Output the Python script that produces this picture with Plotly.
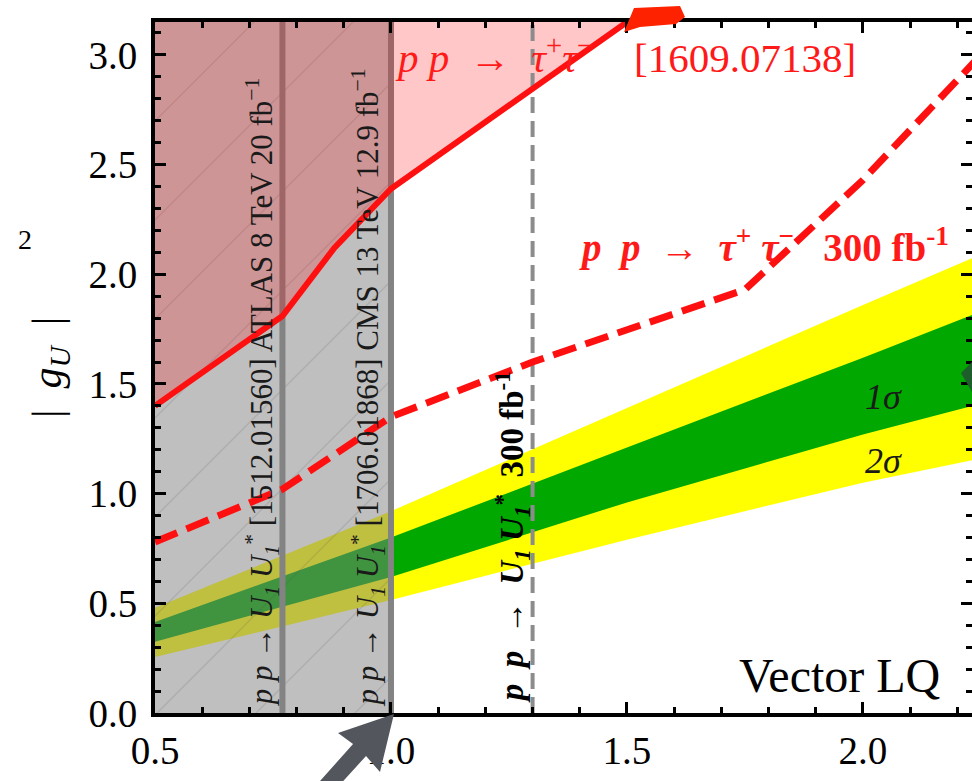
import plotly.graph_objects as go

# ---------------- data ----------------
x_range = [0.5, 2.231]
y_range = [0.0, 3.15]

# current exclusion limits on M_U (TeV)
atlas_limit = 0.77
cms_limit = 1.0
hl_limit = 1.30

# pp -> tau tau, 1609.07138 (solid red)
tt_x = [0.5, 0.77, 0.88, 1.0, 1.5, 1.6]
tt_y = [1.40, 1.81, 2.12, 2.39, 3.15, 3.30]

# pp -> tau tau, 300 fb^-1 (dashed red)
tt300_x = [0.5, 0.77, 1.0, 1.3, 1.75, 2.0, 2.25]
tt300_y = [0.78, 1.02, 1.35, 1.60, 1.93, 2.43, 3.00]

# 1 sigma / 2 sigma bands
band_x = [0.5, 1.0, 1.5, 2.0, 2.25]
y2_hi = [0.48, 0.92, 1.39, 1.86, 2.09]
y1_hi = [0.415, 0.80, 1.21, 1.62, 1.83]
y1_lo = [0.325, 0.62, 0.96, 1.27, 1.41]
y2_lo = [0.255, 0.515, 0.79, 1.05, 1.16]

FONT = "Liberation Serif"
fig = go.Figure()

# bands
fig.add_trace(go.Scatter(x=band_x, y=y2_hi, mode="lines", line=dict(width=0), hoverinfo="skip"))
fig.add_trace(go.Scatter(x=band_x, y=y2_lo, mode="lines", line=dict(width=0), fill="tonexty",
                         fillcolor="#ffff00", hoverinfo="skip"))
fig.add_trace(go.Scatter(x=band_x, y=y1_hi, mode="lines", line=dict(width=0), hoverinfo="skip"))
fig.add_trace(go.Scatter(x=band_x, y=y1_lo, mode="lines", line=dict(width=0), fill="tonexty",
                         fillcolor="#00a800", hoverinfo="skip"))

# gray excluded region (direct searches)
gx = [x_range[0], cms_limit, cms_limit, x_range[0]]
gy = [y_range[0], y_range[0], y_range[1], y_range[1]]
fig.add_trace(go.Scatter(x=gx, y=gy, mode="lines", line=dict(width=0), fill="toself",
                         fillcolor="rgba(128,128,128,0.5)",
                         fillpattern=dict(shape="/", size=70, solidity=0.02,
                                          fgcolor="rgba(70,70,70,0.3)",
                                          bgcolor="rgba(128,128,128,0.5)"),
                         hoverinfo="skip"))

# vertical limit lines
for xv in (atlas_limit, cms_limit):
    fig.add_trace(go.Scatter(x=[xv, xv], y=y_range, mode="lines",
                             line=dict(color="#838383", width=6), hoverinfo="skip"))

# pink excluded region above tau tau limit
top = max(tt_y)
px_ = tt_x + [tt_x[-1], tt_x[0]]
py_ = tt_y + [top, top]
fig.add_trace(go.Scatter(x=px_, y=py_, mode="lines", line=dict(width=0), fill="toself",
                         fillcolor="rgba(255,0,0,0.22)", hoverinfo="skip"))

# HL-LHC pair production reach
fig.add_trace(go.Scatter(x=[hl_limit, hl_limit], y=y_range, mode="lines",
                         line=dict(color="#8c8c8c", width=4, dash="16px,8px"), hoverinfo="skip"))

# red lines
fig.add_trace(go.Scatter(x=tt_x, y=tt_y, mode="lines",
                         line=dict(color="#ff1010", width=6), hoverinfo="skip"))
fig.add_trace(go.Scatter(x=tt300_x, y=tt300_y, mode="lines",
                         line=dict(color="#ff1010", width=7, dash="24px,10px"), hoverinfo="skip"))

# ---------------- axes ----------------
axis_common = dict(showline=True, linecolor="black", linewidth=4, mirror="ticks",
                   ticks="inside", ticklen=11, tickwidth=3, tickcolor="black",
                   showgrid=False, zeroline=False, automargin=False,
                   tickfont=dict(family=FONT, size=39, color="black"))
fig.update_xaxes(range=x_range, tickvals=[0.5, 1.0, 1.5, 2.0], ticktext=["0.5", "1.0", "1.5", "2.0"],
                 minor=dict(dtick=0.1, tick0=0.5, ticks="inside", ticklen=6, tickwidth=3,
                            tickcolor="black", showgrid=False),
                 ticklabelstandoff=0, **axis_common)
fig.update_yaxes(range=y_range, tickvals=[0, 0.5, 1.0, 1.5, 2.0, 2.5, 3.0],
                 ticktext=["0.0", "0.5", "1.0", "1.5", "2.0", "2.5", "3.0"],
                 minor=dict(dtick=0.1, tick0=0, ticks="inside", ticklen=6, tickwidth=3,
                            tickcolor="black", showgrid=False),
                 ticklabelstandoff=6, **axis_common)

L, T, W, H = 155, 22, 817, 691


def pxp(px, py):
    return (px - L) / W, (T + H - py) / H


ann = []
# y-axis title
ax_, ay_ = pxp(22, 368)
ann.append(dict(x=ax_, y=ay_, xref="paper", yref="paper", text="|  <i>g</i><sub><i>U</i></sub>  |",
                textangle=-90, showarrow=False, font=dict(family=FONT, size=42, color="black")))
ax_, ay_ = pxp(16, 222)
ann.append(dict(x=ax_, y=ay_, xref="paper", yref="paper", text="2",
                showarrow=False, font=dict(family=FONT, size=28, color="black")))

# red labels
ann.append(dict(x=1.004, y=3.0, xref="x", yref="y", xanchor="left",
                text="<i>p</i> <i>p</i>&nbsp; →&nbsp; <i>τ</i><sup>+</sup><i>τ</i><sup>−</sup>&nbsp;&nbsp;&nbsp; [1609.07138]",
                showarrow=False, font=dict(family=FONT, size=41, color="#ff1a1a")))
ann.append(dict(x=1.394, y=2.13, xref="x", yref="y", xanchor="left",
                text="<b><i>p</i>&nbsp; <i>p</i>&nbsp; →&nbsp; <i>τ</i><sup>+</sup> <i>τ</i><sup>−</sup>&nbsp;&nbsp; 300 fb<sup>-1</sup></b>",
                showarrow=False, font=dict(family=FONT, size=39, color="#ff1a1a")))

# sigma labels
ann.append(dict(x=2.044, y=1.44, xref="x", yref="y", text="<i>1σ</i>", showarrow=False,
                font=dict(family=FONT, size=36, color="#1a1a1a")))
ann.append(dict(x=2.044, y=1.15, xref="x", yref="y", text="<i>2σ</i>", showarrow=False,
                font=dict(family=FONT, size=36, color="#1a1a1a")))

ann.append(dict(x=1.951, y=0.17, xref="x", yref="y", text="Vector LQ", showarrow=False,
                font=dict(family=FONT, size=48, color="black")))

# vertical labels
pp_uu = "<i>p p</i> → <i>U</i><sub><i>1</i></sub> <i>U</i><sub><i>1</i></sub><sup>*</sup>"
ann.append(dict(x=0.727, y=0.02, xref="x", yref="y", yanchor="bottom", textangle=-90,
                text=pp_uu + " [1512.01560] ATLAS 8 TeV 20 fb<sup>−1</sup>", showarrow=False,
                font=dict(family=FONT, size=31, color="#1a1a1a")))
ann.append(dict(x=0.951, y=0.02, xref="x", yref="y", yanchor="bottom", textangle=-90,
                text=pp_uu + " [1706.01868] CMS 13 TeV 12.9 fb<sup>−1</sup>", showarrow=False,
                font=dict(family=FONT, size=31, color="#1a1a1a")))
pp_uu_b = "<i>p</i>&nbsp; <i>p</i>&nbsp; →&nbsp; <i>U</i><sub><i>1</i></sub> <i>U</i><sub><i>1</i></sub><sup>*</sup>"
ann.append(dict(x=1.256, y=0.035, xref="x", yref="y", yanchor="bottom", textangle=-90,
                text="<b>" + pp_uu_b + "&nbsp; 300 fb<sup>-1</sup></b>", showarrow=False,
                font=dict(family=FONT, size=33, color="black")))


def path(points):
    s = ""
    for i, (a, b) in enumerate(points):
        xa, yb = pxp(a, b)
        s += ("M" if i == 0 else "L") + f"{xa:.4f},{yb:.4f} "
    return s + "Z"


shapes = [
    # gray arrow at bottom
    dict(type="path", xref="paper", yref="paper", layer="above",
         path=path([(394, 714), (338, 733), (353, 744), (312, 790), (326, 800), (366, 756), (380, 772)]),
         fillcolor="#53575d", line=dict(width=0)),
    # red arrow tip at top
    dict(type="path", xref="paper", yref="paper", layer="above",
         path=path([(624, 32), (634, 8), (680, 6), (685, 17), (676, 24), (640, 27)]),
         fillcolor="#ff2200", line=dict(width=0)),
    # dark green tip at right
    dict(type="path", xref="paper", yref="paper", layer="above",
         path=path([(961, 373), (972, 362), (972, 392)]),
         fillcolor="#1d5e2c", line=dict(width=0)),
]

fig.update_layout(width=972, height=781, margin=dict(l=L, r=0, t=T, b=68),
                  plot_bgcolor="white", paper_bgcolor="white", showlegend=False,
                  annotations=ann, shapes=shapes)

fig.write_html("out.html")
